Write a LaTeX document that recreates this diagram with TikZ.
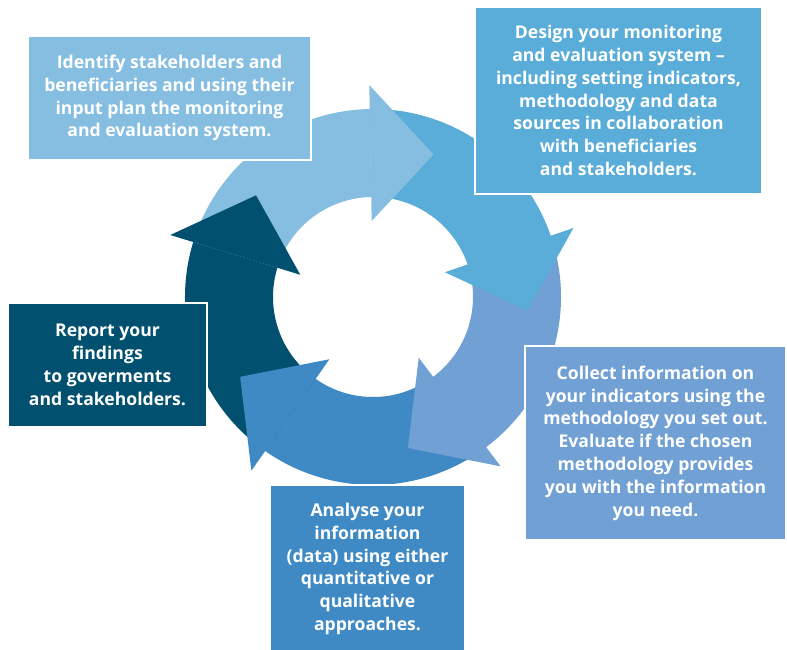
\documentclass[tikz,border=0pt]{standalone}
\usepackage{fontspec}
\setmainfont{Open Sans}
\definecolor{stepA}{HTML}{86BEE2}
\definecolor{stepB}{HTML}{5AACD9}
\definecolor{stepC}{HTML}{71A0D4}
\definecolor{stepD}{HTML}{3F8AC5}
\definecolor{stepE}{HTML}{02506F}
\tikzset{
	stagebox/.style={fill=#1,draw=white,line width=2pt,text=white,align=center,
		inner sep=0pt,font=\bfseries\fontsize{17.6}{22.8}\selectfont}
}

\begin{document}
\begin{tikzpicture}[x=1pt,y=1pt]

\useasboundingbox (0,0) rectangle (787,-650);

\begin{scope}[shift={(373,-297)}]
\foreach \col [count=\k from 0] in {stepA,stepB,stepC,stepD,stepE}{
	\pgfmathsetmacro{\a}{163-72*\k}
	\pgfmathsetmacro{\b}{91-72*\k}
	\fill[\col] (\a:188) arc[start angle=\a,end angle=\b,radius=188]
		-- (\b:100) arc[start angle=\b,end angle=\a,radius=100] -- cycle;
}
\foreach \col [count=\k from 0] in {stepA,stepB,stepC,stepD,stepE}{
	\pgfmathsetmacro{\b}{91-72*\k}
	\fill[\col] (\b:76) -- (\b:212) -- ({\b-24}:155) -- cycle;
}
\end{scope}

\node[stagebox=stepA,minimum width=283pt,minimum height=124pt] (identify) at (169.5,-98)
	{Identify stakeholders and\\beneficiaries and using their\\input plan the monitoring\\and evaluation system.};
\node[stagebox=stepB,minimum width=287pt,minimum height=187pt] (design) at (618.5,-100.5)
	{Design your monitoring\\and evaluation system –\\including setting indicators,\\methodology and data\\sources in collaboration\\with beneficiaries\\and stakeholders.};
\node[stagebox=stepC,minimum width=261pt,minimum height=194pt] (collect) at (655.5,-443)
	{Collect information on\\your indicators using the\\methodology you set out.\\Evaluate if the chosen\\methodology provides\\you with the information\\you need.};
\node[stagebox=stepD,minimum width=195pt,minimum height=168pt] (analyse) at (367.5,-569)
	{Analyse your\\information\\(data) using either\\quantitative or\\qualitative\\approaches.};
\node[stagebox=stepE,minimum width=199pt,minimum height=124pt] (report) at (107.5,-365)
	{Report your\\findings\\to goverments\\and stakeholders.};

\end{tikzpicture}
\end{document}
